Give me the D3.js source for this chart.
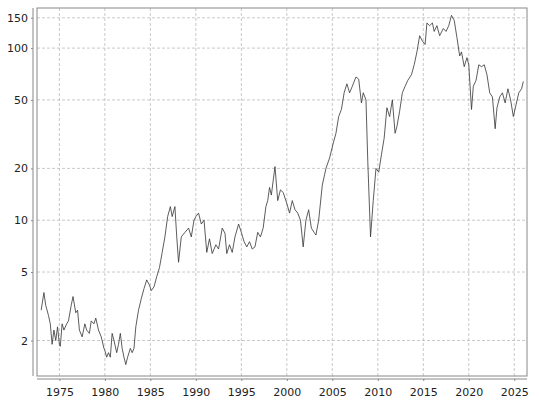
<!DOCTYPE html>
<html>
<head>
<meta charset="UTF-8">
<script src="https://cdn.jsdelivr.net/npm/d3@7"></script>
<style>
  body { margin: 0; background: #fff; }
  text { font-family: "DejaVu Sans", sans-serif; font-size: 11px; fill: #222; }
</style>
</head>
<body>
<script>
// Dates (decimal years) and values
const years = [1973.0,1973.3,1973.5,1973.8,1974.0,1974.2,1974.4,1974.6,1974.8,1975.0,1975.1,1975.3,1975.5,1975.8,1976.0,1976.3,1976.5,1976.8,1977.0,1977.2,1977.5,1977.8,1978.0,1978.3,1978.5,1978.8,1979.0,1979.3,1979.6,1979.9,1980.0,1980.2,1980.4,1980.6,1980.8,1981.0,1981.3,1981.5,1981.7,1981.9,1982.1,1982.3,1982.5,1982.8,1983.0,1983.2,1983.4,1983.7,1984.0,1984.3,1984.6,1984.9,1985.1,1985.4,1985.7,1986.0,1986.3,1986.6,1986.9,1987.2,1987.4,1987.7,1987.9,1988.1,1988.4,1988.8,1989.2,1989.5,1989.8,1990.0,1990.3,1990.6,1990.9,1991.2,1991.5,1991.8,1992.2,1992.5,1992.9,1993.2,1993.4,1993.7,1994.0,1994.3,1994.7,1995.0,1995.3,1995.6,1995.9,1996.2,1996.5,1996.8,1997.1,1997.4,1997.7,1997.9,1998.1,1998.3,1998.7,1999.0,1999.3,1999.6,2000.0,2000.3,2000.6,2000.9,2001.2,2001.5,2001.8,2002.1,2002.4,2002.7,2003.0,2003.2,2003.5,2003.9,2004.3,2004.7,2005.1,2005.4,2005.7,2006.0,2006.3,2006.6,2006.9,2007.2,2007.6,2007.9,2008.2,2008.4,2008.7,2008.9,2009.2,2009.5,2009.8,2010.1,2010.4,2010.7,2011.0,2011.3,2011.6,2011.9,2012.1,2012.4,2012.7,2013.0,2013.3,2013.7,2014.0,2014.3,2014.6,2014.9,2015.2,2015.4,2015.7,2016.0,2016.2,2016.5,2016.8,2017.2,2017.5,2017.8,2018.1,2018.4,2018.7,2019.0,2019.2,2019.5,2019.8,2020.0,2020.3,2020.5,2020.8,2021.1,2021.4,2021.7,2022.0,2022.3,2022.6,2022.9,2023.1,2023.4,2023.7,2024.0,2024.3,2024.6,2024.9,2025.2,2025.5,2025.8,2026.0];
const values = [3.0,3.8,3.2,2.8,2.5,1.9,2.3,2.0,2.4,1.9,1.85,2.5,2.3,2.5,2.6,3.2,3.6,2.9,3.0,2.3,2.1,2.5,2.3,2.2,2.6,2.5,2.7,2.3,2.1,1.8,1.75,1.6,1.7,1.6,2.2,2.0,1.7,1.9,2.2,1.8,1.6,1.45,1.6,1.8,1.7,1.8,2.4,3.0,3.5,4.0,4.5,4.2,3.9,4.1,4.7,5.3,6.5,8.0,10.5,12,10.5,12,8,5.7,8,8.5,9,8,10,10.5,11,9.5,10,6.5,7.8,6.4,7.2,6.8,9,8.4,6.4,7.2,6.5,8,9.5,8.5,7.5,7,7.5,6.8,7,8.5,8,9,12,13,15.5,14,20.5,13,15,14.5,12.5,11,13,11.5,11,10,7.0,10,11.5,9,8.5,8.2,10,16,20,23,28,32,40,44,55,62,55,60,68,66,48,55,50,22,8.0,13,20,19,24,30,45,40,50,32,35,43,55,60,65,70,80,95,118,110,105,140,135,140,125,135,118,130,125,135,155,145,115,90,95,78,88,80,44,60,65,80,78,80,70,55,52,34,45,52,55,48,58,50,40,47,55,58,64];
const yTicks = [2, 5, 10, 20, 50, 100, 150];
const xTicks = [1975, 1980, 1985, 1990, 1995, 2000, 2005, 2010, 2015, 2020, 2025];

const W = 539, H = 400;
const L = 37, R = 527, T = 8, B = 376;

const svg = d3.select("body").append("svg").attr("width", W).attr("height", H);

const x = d3.scaleLinear().domain([1972.54, 2026.4]).range([L, R]);
const y = d3.scaleLog().domain([1.244, 171]).range([B, T]);

// grid
svg.append("g").selectAll("line").data(xTicks).join("line")
  .attr("x1", d => x(d)).attr("x2", d => x(d)).attr("y1", T).attr("y2", B)
  .attr("stroke", "#bbb").attr("stroke-width", 0.8).attr("stroke-dasharray", "3,2");
svg.append("g").selectAll("line").data(yTicks).join("line")
  .attr("x1", L).attr("x2", R).attr("y1", d => y(d)).attr("y2", d => y(d))
  .attr("stroke", "#bbb").attr("stroke-width", 0.8).attr("stroke-dasharray", "3,2");

// frame
svg.append("rect").attr("x", L).attr("y", T).attr("width", R - L).attr("height", B - T)
  .attr("fill", "none").attr("stroke", "#888").attr("stroke-width", 1);

// series
const pts = years.map((d, i) => [d, values[i]]);
svg.append("path").datum(pts)
  .attr("d", d3.line().x(d => x(d[0])).y(d => y(d[1])))
  .attr("fill", "none").attr("stroke", "#333").attr("stroke-width", 0.8);

// axes
const yAxis = svg.append("g").attr("transform", `translate(${L - 4},0)`)
  .call(d3.axisLeft(y).tickValues(yTicks).tickFormat(d3.format("d")).tickSize(2).tickSizeOuter(0));
const xAxis = svg.append("g").attr("transform", `translate(0,${B + 3})`)
  .call(d3.axisBottom(x).tickValues(xTicks).tickFormat(d3.format("d")).tickSize(2).tickSizeOuter(0));
[yAxis, xAxis].forEach(a => {
  a.selectAll("path,line").attr("stroke", "#888");
  a.selectAll("text").style("font-family", "DejaVu Sans").style("font-size", "11px").attr("fill", "#222");
});
yAxis.select(".domain").attr("d", `M0,${T}V${B}`);
xAxis.select(".domain").attr("d", `M${L},0H${R}`);
xAxis.selectAll("text").attr("dy", "1.1em");
</script>
</body>
</html>
